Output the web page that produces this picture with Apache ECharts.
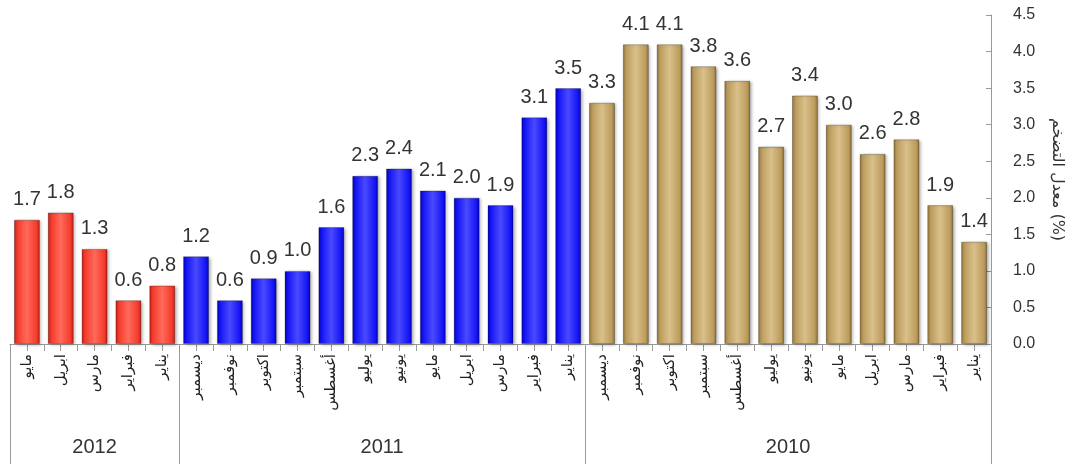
<!DOCTYPE html>
<html><head><meta charset="utf-8">
<script src="https://cdn.jsdelivr.net/npm/echarts@6/dist/echarts.min.js"></script>
<style>html,body{margin:0;padding:0;background:#fff}#c{width:1081px;height:464px}</style>
</head><body><div id="c"></div>
<script>
const months = ['مايو','ابريل','مارس','فبراير','يناير',
  'ديسمبر','نوفمبر','اكتوبر','سبتمبر','أغسطس','يوليو','يونيو','مايو','ابريل','مارس','فبراير','يناير',
  'ديسمبر','نوفمبر','اكتوبر','سبتمبر','أغسطس','يوليو','يونيو','مايو','ابريل','مارس','فبراير','يناير'];
const years = ['2012','2011','2010'];
const groupSizes = [5,12,12];
const values = [1.7,1.8,1.3,0.6,0.8,
  1.2,0.6,0.9,1.0,1.6,2.3,2.4,2.1,2.0,1.9,3.1,3.5,
  3.3,4.1,4.1,3.8,3.6,2.7,3.4,3.0,2.6,2.8,1.9,1.4];
const yTicks = [0,0.5,1,1.5,2,2.5,3,3.5,4,4.5];
const yName = 'معدل التضخم (%)';

const palettes = [
  ['#b81a10','#f43a2c','#ff6a5a'],
  ['#0000b0','#1414f6','#4a4aff'],
  ['#8a6d35','#bc9c5c','#d9c08a']
];
const groupOf = [];
groupSizes.forEach((n,g)=>{for(let i=0;i<n;i++)groupOf.push(g);});
const bounds=[0]; groupSizes.forEach(n=>bounds.push(bounds[bounds.length-1]+n));
const centers = groupSizes.map((n,g)=>bounds[g]+n/2);

function grad(p){
  return {type:'linear',x:0,y:0,x2:1,y2:0,colorStops:[
    {offset:0,color:p[0]},{offset:0.12,color:p[1]},{offset:0.5,color:p[2]},{offset:0.88,color:p[1]},{offset:1,color:p[0]}]};
}
const font = '"Liberation Sans", Arial, "DejaVu Sans", sans-serif';
const chart = echarts.init(document.getElementById('c'));
chart.setOption({
  backgroundColor:'#fff',
  animation:false,
  textStyle:{fontFamily:font},
  grid:{left:10,right:90,top:15,bottom:120},
  xAxis:[
    {type:'category',data:months,position:'bottom',
     axisLine:{show:true,onZero:false,lineStyle:{color:'#999',width:1}},
     axisTick:{show:false},
     axisLabel:{rotate:90,interval:0,margin:10,fontSize:15,color:'#222',fontFamily:'"DejaVu Sans", sans-serif'}},
    {type:'value',min:0,max:29,interval:0.5,position:'bottom',
     axisLine:{show:false,onZero:false},axisTick:{show:true,length:7,lineStyle:{color:'#999'}},
     axisLabel:{show:false},splitLine:{show:false}},
    {type:'value',min:0,max:29,position:'bottom',
     axisLine:{show:false,onZero:false},
     axisTick:{show:true,length:122,customValues:bounds,lineStyle:{color:'#999'}},
     axisLabel:{show:true,customValues:centers,margin:93,fontSize:20,color:'#333',
       formatter:(v)=>{const i=centers.indexOf(v);return i>=0?years[i]:'';}},
     splitLine:{show:false}}
  ],
  yAxis:{type:'value',position:'right',min:yTicks[0],max:yTicks[yTicks.length-1],interval:0.5,
    axisLine:{show:true,onZero:false,lineStyle:{color:'#999'}},
    axisTick:{show:true,inside:true,length:5,lineStyle:{color:'#999'}},
    axisLabel:{margin:22,fontSize:16,color:'#333',formatter:v=>v.toFixed(1)},
    splitLine:{show:false},
    name:yName,nameLocation:'middle',nameRotate:-90,nameGap:58,
    nameTextStyle:{fontSize:16,color:'#333',fontFamily:'"DejaVu Sans", sans-serif'}},
  series:[{type:'bar',xAxisIndex:0,barWidth:26,
    data:values.map((v,i)=>({value:v,itemStyle:{color:grad(palettes[groupOf[i]])}})),
    itemStyle:{borderColor:'rgba(0,0,0,0.25)',borderWidth:1,shadowBlur:3,shadowColor:'rgba(0,0,0,0.3)',shadowOffsetX:2,shadowOffsetY:1},
    label:{show:true,position:'top',distance:10,fontSize:20,color:'#333',formatter:p=>p.value.toFixed(1)}
  }]
});
</script></body></html>
